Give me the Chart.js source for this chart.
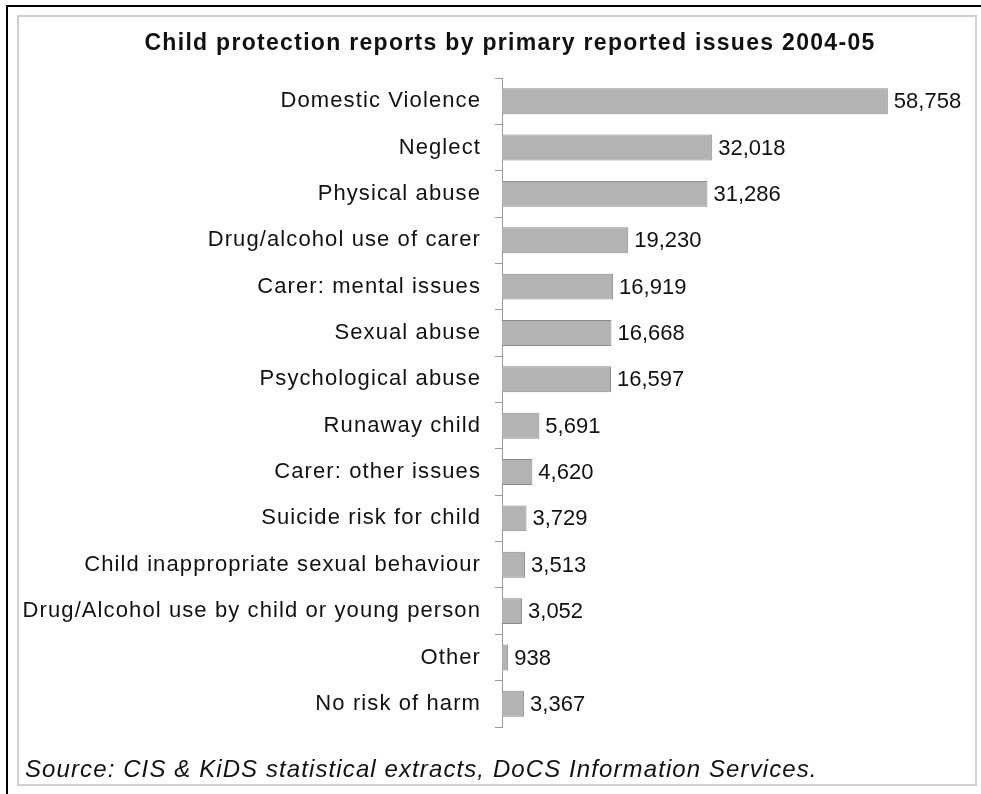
<!DOCTYPE html>
<html lang="en">
<head>
    <meta charset="UTF-8" />
    <title>Child protection reports</title>
    <script src="https://cdn.jsdelivr.net/npm/chart.js"></script>
    <style>
        body { margin: 0; background: #fff; }
        #outer { position: absolute; left: 6px; top: 5px; width: 990px; height: 800px;
                 border-left: 2px solid #000; border-top: 2px solid #000; }
        #inner { position: absolute; left: 17px; top: 15px; width: 956px; height: 767px;
                 border: 2px solid #d0d0d0; }
        canvas { position: absolute; left: 0; top: 0; }
    </style>
</head>
<body>
    <div id="outer"></div>
    <div id="inner"></div>
    <canvas id="chart" width="981" height="794"></canvas>

    <script>
        const chartTitle = "Child protection reports by primary reported issues 2004-05";
        const sourceNote = "Source: CIS & KiDS statistical extracts, DoCS Information Services.";

        const issues = [
            "Domestic Violence",
            "Neglect",
            "Physical abuse",
            "Drug/alcohol use of carer",
            "Carer: mental issues",
            "Sexual abuse",
            "Psychological abuse",
            "Runaway child",
            "Carer: other issues",
            "Suicide risk for child",
            "Child inappropriate sexual behaviour",
            "Drug/Alcohol use by child or young person",
            "Other",
            "No risk of harm"
        ];
        const reports = [58758, 32018, 31286, 19230, 16919, 16668, 16597, 5691, 4620, 3729, 3513, 3052, 938, 3367];

        const fontFamily = "'Liberation Sans', Arial, sans-serif";

        // title, source line and value labels
        const textPlugin = {
            id: 'textPlugin',
            beforeUpdate(chart) {
                chart.ctx.letterSpacing = '1.1px';
            },
            afterDraw(chart) {
                const ctx = chart.ctx;
                ctx.save();
                ctx.fillStyle = '#111';
                ctx.textBaseline = 'middle';

                ctx.letterSpacing = '1.3px';
                ctx.font = `bold 23px ${fontFamily}`;
                ctx.textAlign = 'center';
                ctx.fillText(chartTitle, 510, 44);

                ctx.letterSpacing = '1.1px';
                ctx.font = `italic 24px ${fontFamily}`;
                ctx.textAlign = 'left';
                ctx.fillText(sourceNote, 25, 770);

                ctx.letterSpacing = '0px';
                ctx.font = `22px ${fontFamily}`;
                const meta = chart.getDatasetMeta(0);
                meta.data.forEach((bar, i) => {
                    ctx.fillText(reports[i].toLocaleString('en-US'), bar.x + 6, bar.y + 1);
                });
                ctx.restore();
                ctx.letterSpacing = '1.1px';
            }
        };

        new Chart(document.getElementById('chart'), {
            type: 'bar',
            data: {
                labels: issues,
                datasets: [{
                    data: reports,
                    backgroundColor: '#b3b3b3',
                    borderColor: '#8c8c8c',
                    borderWidth: 1,
                    barPercentage: 0.56,
                    categoryPercentage: 1
                }]
            },
            options: {
                indexAxis: 'y',
                responsive: false,
                devicePixelRatio: 1,
                animation: false,
                layout: { padding: { top: 78, bottom: 67, left: 0, right: 85 } },
                plugins: {
                    legend: { display: false },
                    title: { display: false },
                    tooltip: { enabled: false }
                },
                scales: {
                    x: {
                        display: false,
                        min: 0,
                        max: 60000
                    },
                    y: {
                        afterFit(scale) { scale.width = 502; },
                        border: { display: true, color: '#9a9a9a', width: 1 },
                        grid: {
                            drawOnChartArea: false,
                            drawTicks: true,
                            tickLength: 7,
                            color: '#9a9a9a',
                            offset: true
                        },
                        ticks: {
                            color: '#111',
                            padding: 14,
                            autoSkip: false,
                            font: { family: fontFamily, size: 22 }
                        }
                    }
                }
            },
            plugins: [textPlugin]
        });
    </script>
</body>
</html>
